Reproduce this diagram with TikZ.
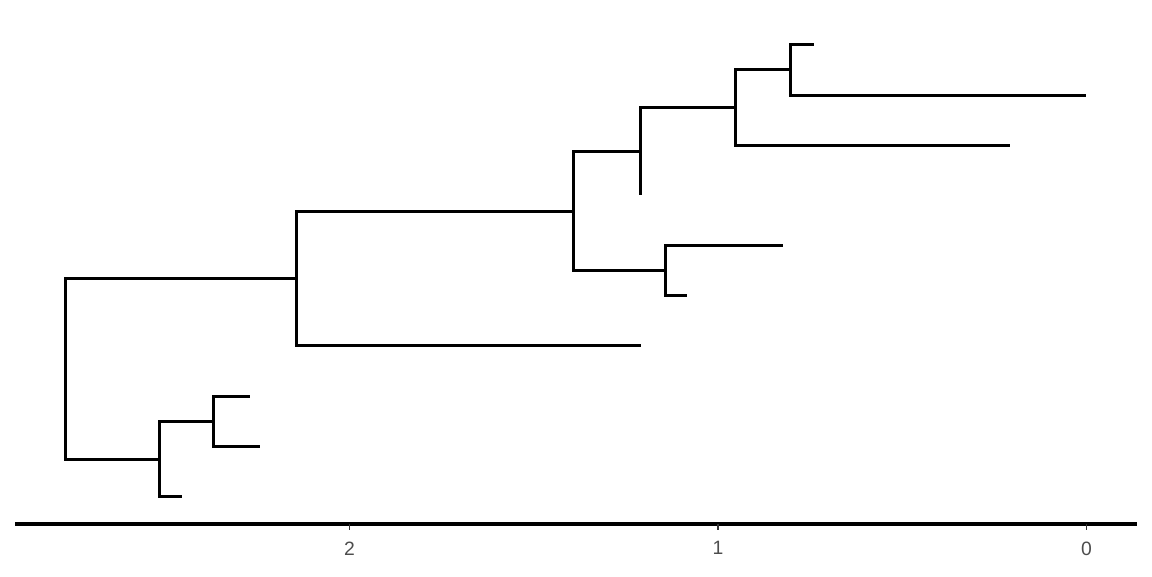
\documentclass[tikz,border=0pt]{standalone}
\usepackage{fontspec}
\setmainfont{Liberation Sans}
\definecolor{ticklab}{HTML}{4D4D4D}
\definecolor{tickcol}{HTML}{333333}
\begin{document}
\begin{tikzpicture}[x=0.75pt,y=-0.75pt,
  branch/.style={line width=2.25pt, line cap=butt, line join=miter},
  axisline/.style={line width=2.3pt},
  tickmark/.style={line width=1.3pt, tickcol},
  ticklabel/.style={text=ticklab, font=\fontsize{14.5pt}{16pt}\selectfont, inner sep=0pt, anchor=north}]
\useasboundingbox (0,0) rectangle (1152,576);
% internal nodes
\coordinate (root) at (65,368);
\coordinate (A) at (296,278);
\coordinate (B) at (573,211);
\coordinate (C) at (640,151);
\coordinate (D) at (735,107);
\coordinate (E) at (790,69);
\coordinate (F) at (665,270);
\coordinate (G) at (159,459);
\coordinate (H) at (213,421);
% leaves
\coordinate (e1) at (814,44);
\coordinate (e2) at (1086,95);
\coordinate (d2) at (1010,145);
\coordinate (c2) at (640,195);
\coordinate (f1) at (783,245);
\coordinate (f2) at (687,295);
\coordinate (a2) at (641,345);
\coordinate (h1) at (250,396);
\coordinate (h2) at (260,446);
\coordinate (g2) at (182,496);
% branches
\draw[branch] (root) |- (A);
\draw[branch] (root) |- (G);
\draw[branch] (A) |- (B);
\draw[branch] (A) |- (a2);
\draw[branch] (B) |- (C);
\draw[branch] (B) |- (F);
\draw[branch] (C) |- (D);
\draw[branch] (C) |- (c2);
\draw[branch] (D) |- (E);
\draw[branch] (D) |- (d2);
\draw[branch] (E) |- (e1);
\draw[branch] (E) |- (e2);
\draw[branch] (F) |- (f1);
\draw[branch] (F) |- (f2);
\draw[branch] (G) |- (H);
\draw[branch] (G) |- (g2);
\draw[branch] (H) |- (h1);
\draw[branch] (H) |- (h2);
% axis
\coordinate (axL) at (15,524);
\coordinate (axR) at (1137,524);
\draw[axisline] (axL) -- (axR);
\coordinate (t2) at (349.5,524);
\coordinate (t1) at (718,524);
\coordinate (t0) at (1086.5,524);
\foreach \t/\l in {t2/2,t1/1,t0/0}{
  \draw[tickmark] (\t) -- ++(0,6) node[ticklabel, yshift=-8pt] (lab\l) {\l};
}
\end{tikzpicture}
\end{document}
